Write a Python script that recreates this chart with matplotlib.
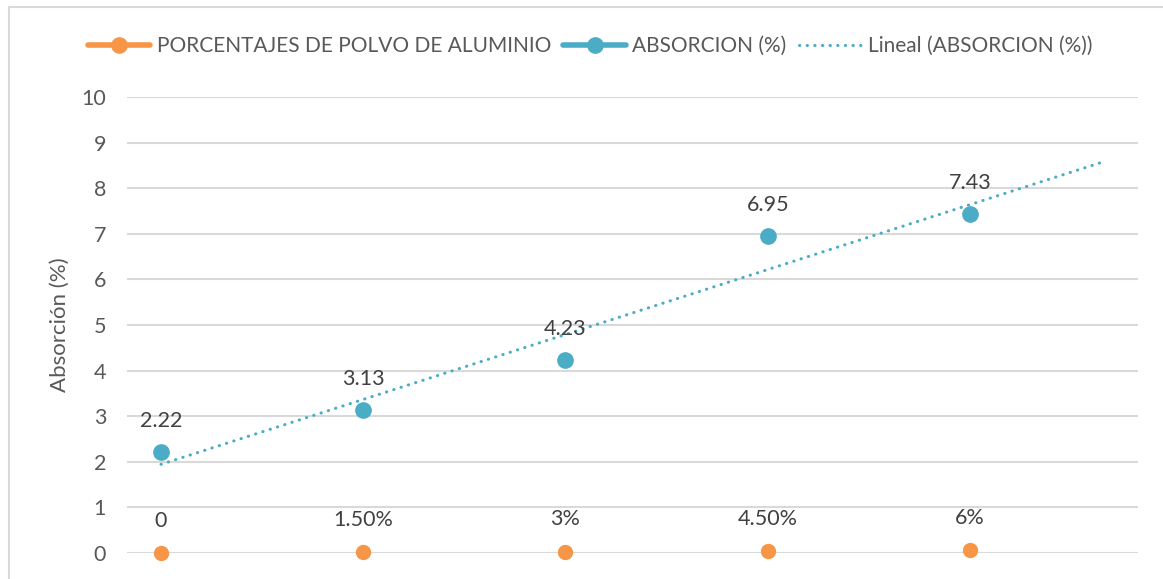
import numpy as np
import matplotlib
matplotlib.use("Agg")
import matplotlib.pyplot as plt
from matplotlib.lines import Line2D

plt.rcParams['font.family'] = ['Lato', 'DejaVu Sans']

# data
categories = [1, 2, 3, 4, 5]
polvo = [0.0, 0.015, 0.03, 0.045, 0.06]
polvo_labels = ["0", "1.50%", "3%", "4.50%", "6%"]
absorcion = [2.22, 3.13, 4.23, 6.95, 7.43]
absorcion_labels = ["2.22", "3.13", "4.23", "6.95", "7.43"]
y_ticks = list(range(0, 11))

ORANGE = "#F79646"
BLUE = "#4BACC6"
GRID = "#D9D9D9"
TXT = "#595959"
LBL = "#404040"

fig = plt.figure(figsize=(11.63, 5.79), dpi=100)
ax = fig.add_axes([127 / 1163, 1 - 553 / 579, (1138 - 127) / 1163, (553 - 97) / 579])

# chart frame (left and top visible)
fig.add_artist(Line2D([9 / 1163, 9 / 1163], [0, 1 - 7 / 579], transform=fig.transFigure, color=GRID, lw=1.5))
fig.add_artist(Line2D([9 / 1163, 1], [1 - 7 / 579, 1 - 7 / 579], transform=fig.transFigure, color=GRID, lw=1.5))

x = np.array(categories, dtype=float)
y = np.array(absorcion)
slope, intercept = np.polyfit(x, y, 1)
xt = np.array([x[0], x[-1] + 0.65])
ax.plot(xt, slope * xt + intercept, color=BLUE, lw=2.2, linestyle=(0, (0.1, 2.4)),
        dash_capstyle='round', zorder=3)

ax.plot(categories, absorcion, linestyle='none', marker='o', ms=11, color=BLUE, zorder=4, clip_on=False)
ax.plot(categories, polvo, linestyle='none', marker='o', ms=10, color=ORANGE, zorder=4, clip_on=False)

for xi, yi, s in zip(categories, absorcion, absorcion_labels):
    ax.annotate(s, (xi, yi), xytext=(0, 15), textcoords='offset points', ha='center', va='bottom',
                fontsize=15.5, color=LBL)
for xi, yi, s in zip(categories, polvo, polvo_labels):
    ax.annotate(s, (xi, yi), xytext=(0, 16), textcoords='offset points', ha='center', va='bottom',
                fontsize=15.5, color=LBL)

ax.set_xlim(1 - 34 / 202.25, 1 + 977 / 202.25)
ax.set_ylim(0, 10)
ax.set_yticks(y_ticks)
ax.set_xticks([])
ax.grid(axis='y', color=GRID, lw=1.5)
ax.set_axisbelow(True)
for sp in ax.spines.values():
    sp.set_visible(False)
ax.tick_params(axis='y', length=0, pad=15, labelsize=15.5, labelcolor=TXT)
ax.set_ylabel("Absorción (%)", fontsize=16, color=TXT, labelpad=8)

handles = [
    Line2D([], [], color=ORANGE, lw=4, marker='o', ms=11, solid_capstyle='round'),
    Line2D([], [], color=BLUE, lw=4, marker='o', ms=11, solid_capstyle='round'),
    Line2D([], [], color=BLUE, lw=2.2, linestyle=(0, (0.1, 2.4)), dash_capstyle='round'),
]
labels = ["PORCENTAJES DE POLVO DE ALUMINIO", "ABSORCION (%)", "Lineal (ABSORCION (%))"]
leg = fig.legend(handles, labels, loc='center', bbox_to_anchor=(590 / 1163, 1 - 46 / 579), ncol=3,
                 frameon=False, fontsize=15, handlelength=3.0, handletextpad=0.3, columnspacing=0.6)
for t in leg.get_texts():
    t.set_color(TXT)

fig.savefig("out.png", dpi=100)
